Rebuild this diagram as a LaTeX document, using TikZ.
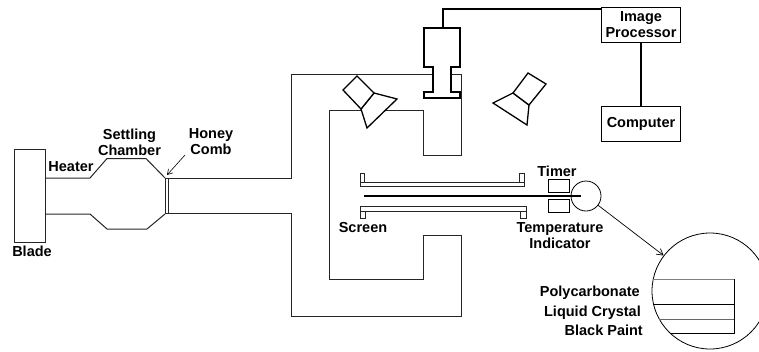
\documentclass[tikz,border=0pt]{standalone}
\usepackage{fontspec}
\setmainfont{Liberation Sans}
\usetikzlibrary{arrows.meta}
\tikzset{
  lbl/.style={font=\fontsize{14.5}{16}\selectfont\bfseries,align=center,inner sep=0pt},
  duct/.style={line width=1pt,black!85},
  unitbox/.style={draw,line width=1pt,inner sep=0pt,minimum width=79pt,minimum height=35pt,font=\fontsize{14.5}{16}\selectfont\bfseries,align=center},
  lamp/.style={line width=1.3pt},
  heavy/.style={line width=1.7pt},
  smallbox/.style={draw,line width=0.8pt,minimum width=21pt,minimum height=13pt,inner sep=0pt}
}
\begin{document}
\begin{tikzpicture}[x=1pt,y=-1pt]
\useasboundingbox (0,0) rectangle (759,351);

% blade and settling chamber
\draw[duct] (14,149) rectangle (45,242);
\node[lbl] (blade) at (32,251) {Blade};
\node[lbl] (heater) at (71,167) {Heater};
\node[lbl] (settling) at (129.5,142) {Settling\\Chamber};
\node[lbl] (honey) at (211,142) {Honey\\Comb};
\draw[duct] (45,178) -- (90,178) -- (107,158.5) -- (146,158.5) -- (165,178);
\draw[duct] (45,214) -- (90,214) -- (107,229) -- (147,229) -- (165,214);
\draw[duct] (165,178) -- (165,214) (168,178) -- (168,214);
\coordinate (combtip) at (167,175);
\draw[-{Straight Barb[length=5pt,width=6pt]},line width=0.6pt] (185,155) -- (combtip);

% test section
\draw[duct] (165,178) -- (291,178) -- (291,74) -- (461,74) -- (461,155) -- (423,155) -- (423,110) -- (329,110) -- (329,279) -- (423,279) -- (423,235) -- (461,235) -- (461,316) -- (291,316) -- (291,213) -- (165,213);

% lamps
\draw[lamp,fill=white] (374,93) -- (397,99) -- (367,128) -- (361,109) -- cycle;
\draw[lamp,fill=white] (357,76) -- (343,90) -- (361,109) -- (374,93) -- cycle;
\draw[lamp,fill=white] (513,93) -- (493,103) -- (527,125) -- (529,105) -- cycle;
\draw[lamp,fill=white] (528,73) -- (546,84) -- (529,105) -- (513,93) -- cycle;

% camera
\draw[heavy,fill=white] (424,28) -- (460,28) -- (460,67) -- (451,67) -- (451,92) -- (460,92) -- (460,98) -- (424,98) -- (424,92) -- (433,92) -- (433,67) -- (424,67) -- cycle;
\coordinate (camtop) at (443,28);

% image processing
\node[unitbox] (proc) at (641,25) {Image\\Processor};
\node[unitbox] (comp) at (641,124) {Computer};
\draw[heavy] (camtop) |- (proc.west |- 0,9);
\draw[heavy] (proc) -- (comp);

% screen plates
\draw[duct] (360,182) rectangle (524,186);
\draw[duct] (360,173) rectangle (364,182) (519,173) rectangle (524,182);
\draw[duct] (360,206) rectangle (526,211);
\draw[duct] (360,211) rectangle (365,218) (520,211) rectangle (526,218);
\node[lbl] (screen) at (363,228) {Screen};

% timer and indicator
\node[smallbox] (timerbox) at (558.5,185.5) {};
\node[smallbox] (tempbox) at (558.5,205.5) {};
\node[lbl] (timer) at (557,171) {Timer};
\node[lbl] (temp) at (560,236) {Temperature\\Indicator};
\node[draw,circle,line width=0.8pt,minimum size=30pt,inner sep=0pt] (spot) at (586,196) {};
\draw[heavy] (364,196) -- (581,196);

% enlarged view
\node[draw,circle,line width=0.8pt,minimum size=116pt,inner sep=0pt] (detail) at (710,291) {};
\draw[-{Straight Barb[length=6pt,width=7pt]},line width=0.7pt] (spot) -- (detail);
\draw[line width=1pt,black!50] (653,279) -- (734,279);
\draw[line width=1pt] (734,279) -- (734,333) -- (670,333);
\draw[line width=1pt] (653,304) -- (734,304);
\draw[line width=1pt,black!60] (659,319) -- (734,319);
\node[lbl,anchor=east] (poly) at (640,293) {Polycarbonate};
\node[lbl,anchor=east] (crystal) at (641,313) {Liquid Crystal};
\node[lbl,anchor=east] (paint) at (643,330) {Black Paint};

\end{tikzpicture}
\end{document}
